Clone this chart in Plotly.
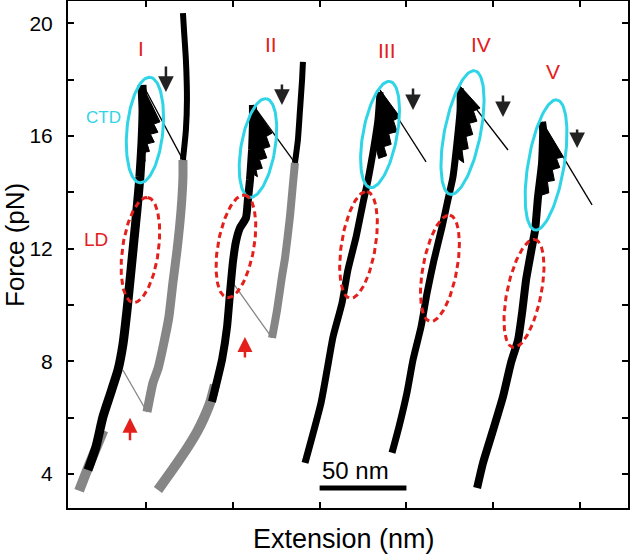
import numpy as np
import plotly.graph_objects as go

# ---------------- data (Extension nm, Force pN) ----------------
I_black_x = [16.6, 21.2, 25.2, 29.3, 33.9, 36.7, 39.1, 41.4, 43.1, 44.8, 46.5, 47.7, 48.3, 47.7]
I_black_y = [4.14, 4.96, 6.02, 6.80, 7.69, 8.58, 9.82, 11.24, 12.31, 13.37, 14.54, 15.75, 16.92, 17.81]
I_hop_x = [47.7, 58.1, 54.5, 56.9, 52.6, 54.8, 50.7, 52.0, 48.9, 49.5, 47.4]
I_hop_y = [17.81, 16.50, 16.42, 16.13, 16.06, 15.78, 15.72, 15.45, 15.42, 15.10, 15.30]
I_up_x = [71.3, 73.0, 73.6, 73.0, 71.9, 71.3]
I_up_y = [15.15, 16.21, 17.28, 18.70, 19.76, 20.36]
I_gray_x = [50.6, 54.0, 57.0, 60.3, 63.2, 65.5, 67.9, 70.2, 71.3, 71.3]
I_gray_y = [6.20, 7.23, 7.75, 8.65, 9.57, 10.78, 11.95, 13.37, 14.54, 15.15]
I_gray_low_x = [11.5, 14.0, 17.5, 21.5, 25.5]
I_gray_low_y = [3.40, 3.80, 4.35, 4.95, 5.55]
I_jump_x = [48.3, 71.3]
I_jump_y = [17.81, 15.15]
I_gjump_x = [36.7, 50.6]
I_gjump_y = [7.69, 6.20]

II_black_x = [88.0, 91.5, 93.8, 96.7, 98.4, 100.1, 101.8, 104.1, 107.6, 108.7, 109.9, 111.1, 111.6, 111.6]
II_black_y = [6.56, 7.44, 8.05, 9.22, 10.43, 11.53, 12.24, 12.73, 13.09, 13.73, 14.44, 15.50, 16.39, 17.10]
II_hop_x = [111.6, 122.6, 119.3, 121.4, 117.6, 119.6, 115.4, 117.0, 113.4, 114.2, 110.5, 110.5]
II_hop_y = [17.10, 16.10, 15.98, 15.62, 15.55, 15.22, 15.15, 14.85, 14.80, 14.55, 14.70, 16.21]
II_up_x = [135.8, 137.5, 138.7, 139.9, 140.4]
II_up_y = [15.04, 15.86, 16.92, 17.99, 18.63]
II_gray_x = [122.6, 125.5, 128.3, 130.1, 132.9, 134.7, 135.8]
II_gray_y = [8.83, 9.82, 11.0, 11.67, 13.12, 14.33, 15.04]
II_gray_low_x = [56.9, 62.7, 68.4, 74.2, 79.4, 83.4, 86.9, 89.7]
II_gray_low_y = [3.43, 3.93, 4.43, 4.96, 5.49, 5.99, 6.52, 7.16]
II_jump_x = [111.6, 135.8]
II_jump_y = [17.10, 15.04]
II_gjump_x = [100.1, 122.6]
II_gjump_y = [10.78, 8.83]

III_black_x = [141.6, 150.8, 154.3, 157.7, 162.9, 166.3, 171.0, 175.0, 177.9, 180.7, 183.6, 184.8]
III_black_y = [4.39, 6.52, 7.69, 8.86, 10.07, 11.24, 12.41, 13.62, 14.44, 15.40, 16.57, 17.56]
III_hop_x = [184.8, 196.3, 192.5, 194.6, 189.8, 191.2, 187.0, 188.6, 184.0, 182.5]
III_hop_y = [17.63, 16.67, 16.55, 16.15, 16.08, 15.70, 15.62, 15.30, 15.20, 15.60]
III_jump_x = [184.8, 211.3]
III_jump_y = [17.63, 15.08]

IV_black_x = [191.7, 195.7, 200.3, 203.8, 208.4, 211.9, 215.9, 220.5, 223.9, 226.8, 229.1, 230.9, 230.9]
IV_black_y = [4.75, 5.67, 6.88, 8.05, 9.22, 10.43, 11.60, 12.77, 13.73, 14.54, 15.75, 16.92, 17.70]
IV_hop_x = [230.9, 242.4, 238.6, 240.6, 236.3, 238.2, 234.3, 235.6, 232.0, 233.0, 229.6]
IV_hop_y = [17.77, 16.99, 16.88, 16.52, 16.45, 16.05, 15.98, 15.55, 15.50, 15.05, 15.20]
IV_jump_x = [230.9, 258.5]
IV_jump_y = [17.70, 15.50]

V_black_x = [240.7, 244.1, 249.9, 255.6, 260.2, 264.3, 266.6, 268.9, 272.3, 274.1, 275.8, 278.1, 278.7, 278.1]
V_black_y = [3.50, 4.39, 5.56, 6.74, 7.94, 8.76, 9.72, 10.89, 12.06, 12.66, 13.84, 15.04, 16.21, 16.50]
V_hop_x = [278.1, 290.2, 286.4, 288.3, 284.0, 285.2, 281.2, 282.0, 278.0, 277.5]
V_hop_y = [16.50, 15.25, 15.20, 14.88, 14.80, 14.42, 14.38, 13.98, 13.90, 14.30]
V_jump_x = [278.1, 306.9]
V_jump_y = [16.50, 13.55]

# trace labels
trace_labels = ["I", "II", "III", "IV", "V"]
label_x = [47.1, 122.0, 188.8, 243.0, 284.4]
label_y = [19.12, 19.23, 19.02, 19.23, 18.27]

# CTD (cyan) and LD (red) region centres
ctd_cx = [49.4, 114.5, 184.8, 232.3, 280.4]
ctd_cy = [16.21, 15.57, 16.05, 16.12, 14.97]
ld_cx = [46.8, 101.8, 172.4, 219.3, 267.7]
ld_cy = [11.95, 12.08, 12.13, 11.30, 10.41]

# black arrow heads (pointing down) and red arrow heads (pointing up)
down_arrow_x = [61.5, 128.3, 203.8, 255.6, 298.3]
down_arrow_y = [17.56, 17.10, 16.92, 16.67, 15.57]
up_arrow_x = [40.8, 107.0]
up_arrow_y = [5.99, 8.86]

y_tickvals = [4, 6, 8, 10, 12, 14, 16, 18, 20]
y_ticktext = ["4", "", "8", "", "12", "", "16", "", "20"]
x_tickvals = [50, 100, 150, 200, 250, 300]

# ---------------- layout geometry ----------------
W, H = 630, 555
ML, MR, MT, MB = 68, 2, 1, 47
XR = [5.1, 327.6]
YR = [2.79, 20.79]
pw, ph = W - ML - MR, H - MT - MB
px_nm = pw / (XR[1] - XR[0])
px_pN = ph / (YR[1] - YR[0])

BLACK = "#000000"
GRAY = "#868686"
CYAN = "#2fd4e6"
RED = "#e3201b"
FONT = "Arial, Liberation Sans, sans-serif"

fig = go.Figure()


def line(x, y, color, width, shape="spline", opacity=1.0):
    fig.add_trace(go.Scatter(x=x, y=y, mode="lines", hoverinfo="skip", opacity=opacity,
                             line=dict(color=color, width=width, shape=shape,
                                       smoothing=0.5 if shape == "spline" else None)))


def poly(x, y, color):
    fig.add_trace(go.Scatter(x=x, y=y, mode="lines", fill="toself", fillcolor=color,
                             hoverinfo="skip", line=dict(color=color, width=1)))


# gray traces (underneath)
line(I_gray_low_x, I_gray_low_y, GRAY, 10)
line(II_gray_low_x, II_gray_low_y, GRAY, 10)
line(I_gray_x, I_gray_y, GRAY, 9)
line(II_gray_x, II_gray_y, GRAY, 8)
line(I_gjump_x, I_gjump_y, GRAY, 1.3, "linear")
line(II_gjump_x, II_gjump_y, GRAY, 1.3, "linear")

# black traces
for bx, by, hx, hy, jx, jy, w in [
    (I_black_x, I_black_y, I_hop_x, I_hop_y, I_jump_x, I_jump_y, 9),
    (II_black_x, II_black_y, II_hop_x, II_hop_y, II_jump_x, II_jump_y, 8),
    (III_black_x, III_black_y, III_hop_x, III_hop_y, III_jump_x, III_jump_y, 7),
    (IV_black_x, IV_black_y, IV_hop_x, IV_hop_y, IV_jump_x, IV_jump_y, 7),
    (V_black_x, V_black_y, V_hop_x, V_hop_y, V_jump_x, V_jump_y, 8),
]:
    line(bx, by, BLACK, w)
    poly(hx, hy, BLACK)
    line(jx, jy, BLACK, 1.3, "linear")
line(I_up_x, I_up_y, BLACK, 6)
line(II_up_x, II_up_y, BLACK, 6)


# ellipses (semi-axes in px, tilt in degrees)
def ellipse(cx, cy, a, b, tilt, color, dash):
    t = np.linspace(0, 2 * np.pi, 121)
    th = np.radians(tilt)
    dx = a * np.cos(t) * np.sin(th) + b * np.sin(t) * np.cos(th)
    dy = -a * np.cos(t) * np.cos(th) + b * np.sin(t) * np.sin(th)
    fig.add_trace(go.Scatter(x=cx + dx / px_nm, y=cy - dy / px_pN, mode="lines",
                             hoverinfo="skip",
                             line=dict(color=color, width=3, dash=dash)))


ctd_geom = [(53, 18, 5.5), (50, 17, 9.7), (54, 17, 10.6), (63, 18, 11.3), (66, 18, 9.6)]
ld_geom = [(53, 18, 8), (52, 18, 9.9), (54, 17, 9.1), (54, 17, 10.6), (55, 17, 11.6)]
for cx, cy, (a, b, tl) in zip(ctd_cx, ctd_cy, ctd_geom):
    ellipse(cx, cy, a, b, tl, CYAN, "solid")
for cx, cy, (a, b, tl) in zip(ld_cx, ld_cy, ld_geom):
    ellipse(cx, cy, a, b, tl, RED, "6px,4px")

C = dict(xanchor="center", yanchor="middle", showarrow=False)
ann = []
for t, x, y in zip(trace_labels, label_x, label_y):
    ann.append(dict(x=x, y=y, text=t, font=dict(color=RED, size=21, family=FONT), **C))
ann.append(dict(x=(103 - ML) / pw, y=(508 - 118) / ph, xref="paper", yref="paper", text="CTD",
                font=dict(color=CYAN, size=17, family=FONT), **C))
ann.append(dict(x=(96 - ML) / pw, y=(508 - 240) / ph, xref="paper", yref="paper", text="LD",
                font=dict(color=RED, size=19, family=FONT), **C))
arrow_len = [27, 22, 23, 23, 20]
for x, y, L in zip(down_arrow_x, down_arrow_y, arrow_len):
    ann.append(dict(x=x, y=y, ax=0, ay=-L, text="", showarrow=True, arrowhead=2,
                    arrowsize=1.25, arrowwidth=2.5, arrowcolor="#222222", standoff=0))
for x, y, L in zip(up_arrow_x, up_arrow_y, [24, 22]):
    ann.append(dict(x=x, y=y, ax=0, ay=L, text="", showarrow=True, arrowhead=2,
                    arrowsize=1.2, arrowwidth=2.5, arrowcolor=RED, standoff=0))
# scale bar text
ann.append(dict(x=170.4, y=4.11, text="50 nm", font=dict(color="black", size=24, family=FONT), **C))
# axis titles
ann.append(dict(x=(15 - ML) / pw, y=(508 - 245) / ph, xref="paper", yref="paper",
                text="Force (pN)", textangle=-90,
                font=dict(color="black", size=26, family=FONT), **C))
ann.append(dict(x=(344 - ML) / pw, y=(508 - 539) / ph, xref="paper", yref="paper",
                text="Extension (nm)", font=dict(color="black", size=27, family=FONT), **C))

fig.add_shape(type="line", x0=150, x1=200, y0=3.50, y1=3.50,
              line=dict(color="black", width=5))

fig.update_layout(
    width=W, height=H, margin=dict(l=ML, r=MR, t=MT, b=MB, autoexpand=False),
    paper_bgcolor="white", plot_bgcolor="white", showlegend=False,
    annotations=ann,
    xaxis=dict(range=XR, tickvals=x_tickvals, showticklabels=False, ticks="inside",
               ticklen=6, tickwidth=1.5, tickcolor="black", showline=True, linecolor="black",
               linewidth=2, mirror="ticks", showgrid=False, zeroline=False, automargin=False),
    yaxis=dict(range=YR, tickvals=y_tickvals, ticktext=y_ticktext, ticks="inside",
               ticklen=6, tickwidth=1.5, tickcolor="black", showline=True, linecolor="black",
               linewidth=2, mirror="ticks", showgrid=False, zeroline=False, automargin=False,
               ticklabelstandoff=9, tickfont=dict(size=21, family=FONT, color="black")),
)

fig.write_html("out.html", config={"displayModeBar": False},
               post_script="document.body.style.margin='0';")
